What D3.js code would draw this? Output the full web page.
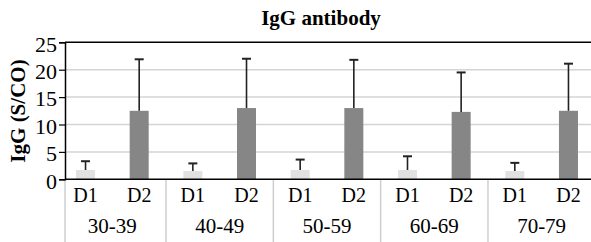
<!DOCTYPE html>
<html>
<head>
    <meta charset="utf-8">
    <title>IgG antibody</title>
    <style>
        body { margin: 0; background: white; }
        svg text { font-family: "Liberation Serif", "Times New Roman", serif !important; fill: #000; }
    </style>
</head>
<body>
    <script src="https://cdnjs.cloudflare.com/ajax/libs/d3/7.8.5/d3.min.js"></script>
    <script>

// data
var groups = ["30-39", "40-49", "50-59", "60-69", "70-79"];
var doses = ["D1", "D2"];
var d1Mean = [1.7, 1.5, 1.7, 1.7, 1.5];
var d1Sd   = [1.6, 1.4, 1.9, 2.5, 1.5];
var d2Mean = [12.5, 13.0, 13.0, 12.3, 12.5];
var d2Sd   = [9.4, 9.0, 8.8, 7.2, 8.6];
var yTicks = [0, 5, 10, 15, 20, 25];

var colors = { D1: "#e1e1e1", D2: "#868686" };

var width = 591, height = 242;
var plot = { left: 65, right: 591, top: 42.3, bottom: 179.3 };

var rows = [];
groups.forEach(function (g, i) {
    rows.push({ group: g, dose: "D1", mean: d1Mean[i], sd: d1Sd[i] });
    rows.push({ group: g, dose: "D2", mean: d2Mean[i], sd: d2Sd[i] });
});

var svg = d3.select("body").append("svg")
    .attr("width", width)
    .attr("height", height)
    .style("display", "block");

// the category band runs a little past both edges of the plot box (clipped like the original)
var x0 = d3.scaleBand().domain(groups).range([58.7, 595.3]).padding(0);
var x1 = d3.scaleBand().domain(doses).range([0, x0.bandwidth()]).padding(0);
var y = d3.scaleLinear().domain([0, 25]).range([plot.bottom, plot.top]);
var barW = 19;

// grid
svg.append("g").selectAll("line")
    .data(yTicks.filter(function (t) { return t > 0 && t < 25; }))
    .enter().append("line")
    .attr("x1", plot.left).attr("x2", plot.right)
    .attr("y1", function (d) { return y(d); })
    .attr("y2", function (d) { return y(d); })
    .attr("stroke", "#d4d4d4")
    .attr("stroke-width", 1.5);

// top border
svg.append("line")
    .attr("x1", plot.left).attr("x2", plot.right)
    .attr("y1", y(25)).attr("y2", y(25))
    .attr("stroke", "#000").attr("stroke-width", 1.5);

// bars
var bars = svg.append("g").selectAll("g")
    .data(rows)
    .enter().append("g")
    .attr("transform", function (d) {
        return "translate(" + (x0(d.group) + x1(d.dose) + x1.bandwidth() / 2) + ",0)";
    });

bars.append("rect")
    .attr("x", -barW / 2)
    .attr("width", barW)
    .attr("y", function (d) { return y(d.mean); })
    .attr("height", function (d) { return y(0) - y(d.mean); })
    .attr("fill", function (d) { return colors[d.dose]; });

// error bars (upper only)
bars.append("line")
    .attr("x1", 0).attr("x2", 0)
    .attr("y1", function (d) { return y(d.mean); })
    .attr("y2", function (d) { return y(d.mean + d.sd); })
    .attr("stroke", "#222").attr("stroke-width", 1.6);
bars.append("line")
    .attr("x1", -4.5).attr("x2", 4.5)
    .attr("y1", function (d) { return y(d.mean + d.sd); })
    .attr("y2", function (d) { return y(d.mean + d.sd); })
    .attr("stroke", "#222").attr("stroke-width", 2);

// category separators below the axis
var seps = groups.map(function (g) { return x0(g); }).slice(1);
svg.append("g").selectAll("line")
    .data([plot.left].concat(seps))
    .enter().append("line")
    .attr("x1", function (d) { return d; }).attr("x2", function (d) { return d; })
    .attr("y1", plot.bottom).attr("y2", height)
    .attr("stroke", "#cfcfcf").attr("stroke-width", 1.5);

// x axis line
svg.append("line")
    .attr("x1", plot.left).attr("x2", plot.right)
    .attr("y1", plot.bottom).attr("y2", plot.bottom)
    .attr("stroke", "#000").attr("stroke-width", 1.5);

// dose labels
svg.append("g").selectAll("text")
    .data(rows)
    .enter().append("text")
    .attr("x", function (d) { return x0(d.group) + x1(d.dose) + x1.bandwidth() / 2; })
    .attr("y", 202.3)
    .attr("text-anchor", "middle")
    .attr("font-size", 20)
    .text(function (d) { return d.dose; });

// group labels
svg.append("g").selectAll("text")
    .data(groups)
    .enter().append("text")
    .attr("x", function (d) { return x0(d) + x0.bandwidth() / 2; })
    .attr("y", 233)
    .attr("text-anchor", "middle")
    .attr("font-size", 21)
    .text(function (d) { return d; });

// y axis
var yAxis = svg.append("g")
    .attr("transform", "translate(" + plot.left + ",0)")
    .call(d3.axisLeft(y).tickValues(yTicks).tickSize(6).tickPadding(2));
yAxis.select(".domain").attr("stroke", "#000").attr("stroke-width", 1.5);
yAxis.selectAll(".tick line").attr("stroke", "#000").attr("stroke-width", 1.2);
yAxis.selectAll(".tick text")
    .attr("font-size", 22)
    .attr("dy", "0.4em");

// titles
svg.append("text")
    .attr("x", 321).attr("y", 25)
    .attr("text-anchor", "middle")
    .attr("font-size", 21).attr("font-weight", "bold")
    .text("IgG antibody");

svg.append("text")
    .attr("transform", "translate(25,111) rotate(-90)")
    .attr("text-anchor", "middle")
    .attr("font-size", 21).attr("font-weight", "bold")
    .text("IgG (S/CO)");

    </script>
</body>
</html>
